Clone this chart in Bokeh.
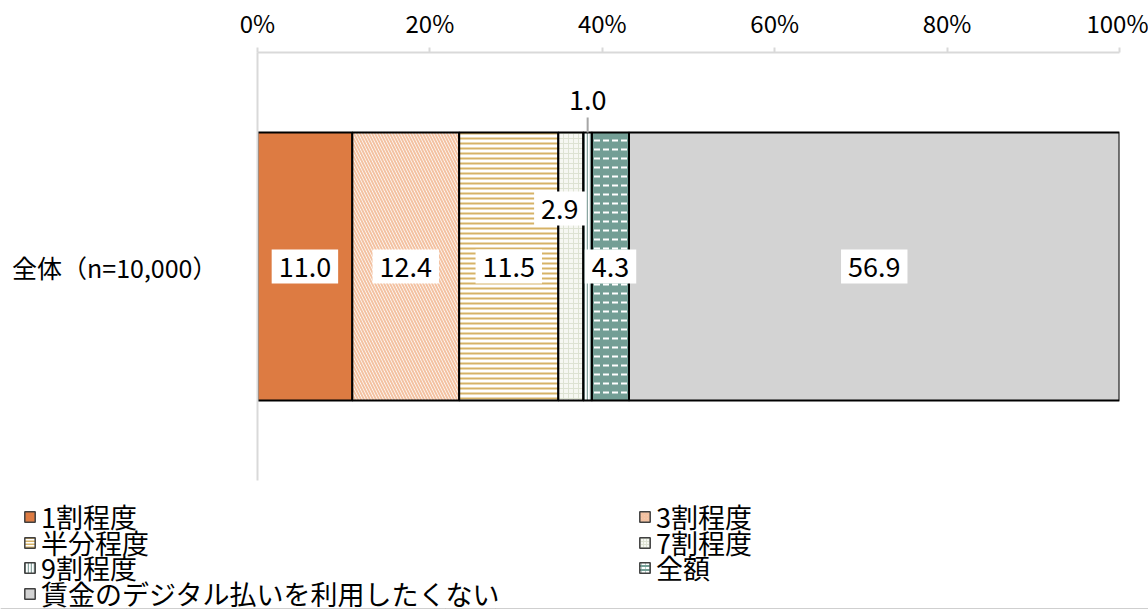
import numpy as np
from bokeh.plotting import figure
from bokeh.layouts import column
from bokeh.models import (FactorRange, Range1d, FixedTicker, PrintfTickFormatter,
                          Label, Legend, LegendItem, ColumnDataSource)
from bokeh.embed import file_html
from bokeh.resources import INLINE

# ---------------- data ----------------
category = "全体（n=10,000）"
series = ["1割程度", "3割程度", "半分程度", "7割程度", "9割程度", "全額",
          "賃金のデジタル払いを利用したくない"]
values = [11.0, 12.4, 11.5, 2.9, 1.0, 4.3, 56.9]
x_ticks = [0, 20, 40, 60, 80, 100]

# ---------------- styles ----------------
FONT = "Noto Sans CJK JP"
fills = ["#DD7B42", "#FFFFFF", "#FFFFFF", "#F6F7F2", "#FFFFFF", "#739E95", "#D3D3D3"]
hatches = [None, "left_diagonal_line", "horizontal_line", "cross", "vertical_line",
           "horizontal_dash", None]
hatch_colors = ["#FFFFFF", "#F3C2A2", "#D6B266", "#DDE2D2", "#8AA6A1", "#FFFFFF", "#FFFFFF"]
hatch_scales = [16, 6, 5, 5, 3, 9, 16]
hatch_weights = [1, 2, 2, 1, 1.5, 2, 1]
# label offsets in screen px (dx, dy) per segment
label_offsets = [(0, 0), (0, 0), (0, 0), (-11, 58), (0, 167), (0, 0), (0, 0)]
legend_pos = [(0, 0), (1, 0), (0, 1), (1, 1), (0, 2), (1, 2), (0, 3)]  # (col, row)

BAR_H = 0.626
W = 1148
H_MAIN = 498
H_LEG = 609 - H_MAIN

p = figure(width=W, height=H_MAIN,
           y_range=FactorRange(factors=[category]),
           x_range=Range1d(0, 100),
           x_axis_location="above",
           output_backend="svg", toolbar_location=None,
           min_border_left=257, min_border_right=29,
           min_border_top=52, min_border_bottom=18)
p.frame_align = False
p.outline_line_color = None
p.grid.visible = False
p.background_fill_color = "white"
p.border_fill_color = "white"

# x axis (top)
xa = p.xaxis[0]
xa.ticker = FixedTicker(ticks=x_ticks)
xa.formatter = PrintfTickFormatter(format="%d%%")
xa.axis_line_color = "#D9D9D9"
xa.axis_line_width = 2
xa.major_tick_line_color = "#D9D9D9"
xa.major_tick_line_width = 2
xa.major_tick_out = 5
xa.major_tick_in = 0
xa.minor_tick_line_color = None
xa.major_label_standoff = 8
xa.major_label_text_font = FONT
xa.major_label_text_font_size = "24px"
xa.major_label_text_color = "#000000"

# y axis
ya = p.yaxis[0]
ya.axis_line_color = "#D9D9D9"
ya.axis_line_width = 2
ya.major_tick_line_color = None
ya.minor_tick_line_color = None
ya.major_label_standoff = 34
ya.major_label_text_font = FONT
ya.major_label_text_font_size = "25px"
ya.major_label_text_color = "#000000"

lefts = np.concatenate([[0.0], np.cumsum(values)[:-1]])
rights = lefts + np.array(values)

for i, name in enumerate(series):
    p.hbar(y=[category], left=[lefts[i]], right=[rights[i]], height=BAR_H,
           fill_color=fills[i], hatch_pattern=hatches[i],
           hatch_color=hatch_colors[i], hatch_scale=hatch_scales[i],
           hatch_weight=hatch_weights[i],
           line_color="#000000", line_width=2)

# leader line for the small 9割 segment
i9 = 4
c9 = (lefts[i9] + rights[i9]) / 2
top = 0.5 + BAR_H / 2
p.segment(x0=[c9], x1=[c9], y0=[top], y1=[top + 0.035], line_color="#A6A6A6", line_width=2)

# data labels
for i, v in enumerate(values):
    cx = (lefts[i] + rights[i]) / 2
    dx, dy = label_offsets[i]
    bg = None if i == i9 else "white"
    lab = Label(x=cx, y=0.5, text=f"{v:.1f}", x_offset=dx, y_offset=dy,
                text_align="center", text_baseline="middle",
                text_font=FONT, text_font_size="27px", text_color="#000000",
                background_fill_color=bg, padding=7)
    p.add_layout(lab)

# ---------------- legend panel ----------------
pl = figure(width=W, height=H_LEG, x_axis_type=None, y_axis_type=None,
            x_range=Range1d(0, 100), y_range=Range1d(0, 1),
            output_backend="svg", toolbar_location=None, min_border=0)
pl.frame_align = False
pl.outline_line_color = None
pl.grid.visible = False

col_x = [23, 638]
row_pitch = 25.7
first_row_center = 20
ITEM_H = 36
for i, name in enumerate(series):
    # legend swatch source: the series segment, kept outside the visible y-range
    src = ColumnDataSource(dict(y=[-5.0], left=[lefts[i]], right=[rights[i]]))
    r = pl.hbar(y="y", left="left", right="right", height=0.5, source=src,
                fill_color=fills[i], hatch_pattern=hatches[i],
                hatch_color=hatch_colors[i],
                hatch_scale=max(3, hatch_scales[i] // 2),
                hatch_weight=hatch_weights[i],
                line_color="#404040", line_width=1.5)
    col, row = legend_pos[i]
    center = first_row_center + row * row_pitch
    vy = H_LEG - (center + ITEM_H / 2)
    lg = Legend(items=[LegendItem(label=name, renderers=[r])],
                location=(col_x[col], vy),
                orientation="vertical",
                border_line_color=None, background_fill_alpha=0,
                padding=0, margin=0, spacing=0,
                glyph_width=13, glyph_height=13, label_height=ITEM_H,
                label_standoff=5,
                label_text_font=FONT, label_text_font_size="27px",
                label_text_color="#000000")
    pl.add_layout(lg, "center")

layout = column(p, pl, spacing=0)
open("out.html", "w").write(file_html(layout, INLINE))
